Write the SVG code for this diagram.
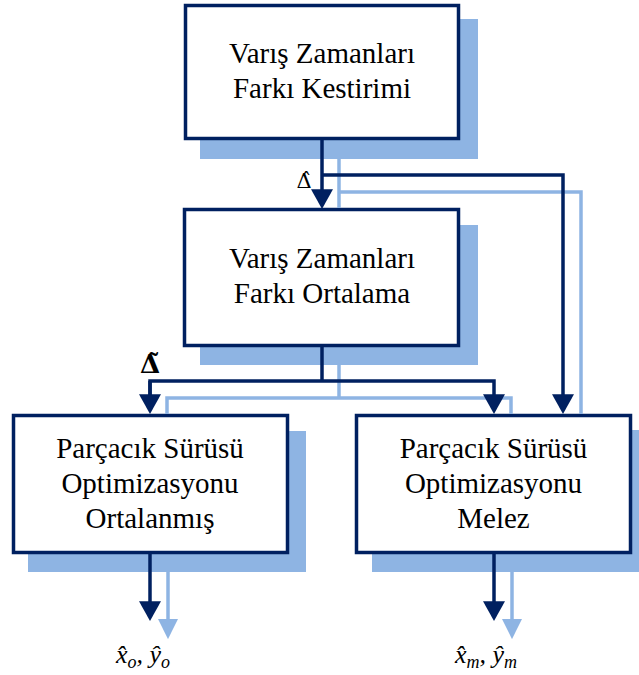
<svg xmlns="http://www.w3.org/2000/svg" width="639" height="675" viewBox="0 0 639 675">
<style>
.shadow{fill:#8EB4E3;}
.box{fill:#ffffff;stroke:#002060;stroke-width:3.5;}
.t{font-size:29px;fill:#000000;text-anchor:middle;}
.dk{fill:none;stroke:#002060;stroke-width:3.5;stroke-linejoin:miter;}
.lt{fill:none;stroke:#8EB4E3;stroke-width:3.5;stroke-linejoin:miter;}
.m{font-style:italic;font-size:26px;fill:#000000;}
.sub{font-size:18px;}
</style>
<defs>
<marker id="ad" markerUnits="userSpaceOnUse" markerWidth="20" markerHeight="22" viewBox="0 0 18 20" refX="8" refY="10" orient="auto">
<path d="M0,0 L18,10 L0,20 z" fill="#002060"/>
</marker>
<marker id="al" markerUnits="userSpaceOnUse" markerWidth="20" markerHeight="20" viewBox="0 0 18 18" refX="8" refY="9" orient="auto">
<path d="M0,0 L18,9 L0,18 z" fill="#8EB4E3"/>
</marker>
</defs>

<g id="node-kestirim" font-family="'Liberation Serif', 'Times New Roman', serif">
<rect class="shadow" x="200" y="19" width="278" height="140"/>
<rect class="box" x="185.5" y="5.5" width="273" height="133"/>
<text class="t" x="322" y="63">Varış Zamanları</text>
<text class="t" x="322" y="98">Farkı Kestirimi</text>
</g>

<g id="node-ortalama" font-family="'Liberation Serif', 'Times New Roman', serif">
<rect class="shadow" x="200" y="225" width="278" height="140"/>
<rect class="box" x="184.5" y="209.5" width="274" height="136"/>
<text class="t" x="322" y="268">Varış Zamanları</text>
<text class="t" x="322" y="303">Farkı Ortalama</text>
</g>

<g id="node-pso-ortalanmis" font-family="'Liberation Serif', 'Times New Roman', serif">
<rect class="shadow" x="28" y="431" width="278" height="141"/>
<rect class="box" x="13.5" y="415.5" width="274" height="137"/>
<text class="t" x="150" y="458">Parçacık Sürüsü</text>
<text class="t" x="150" y="493">Optimizasyonu</text>
<text class="t" x="150" y="528">Ortalanmış</text>
</g>

<g id="node-pso-melez" font-family="'Liberation Serif', 'Times New Roman', serif">
<rect class="shadow" x="372" y="430" width="278" height="142"/>
<rect class="box" x="356.5" y="415.5" width="274" height="137"/>
<text class="t" x="493.5" y="458">Parçacık Sürüsü</text>
<text class="t" x="493.5" y="493">Optimizasyonu</text>
<text class="t" x="493.5" y="528">Melez</text>
</g>

<g id="connectors">
<polyline class="lt" points="339,159 339,208"/>
<polyline class="lt" points="339,192 581,192 581,414"/>
<polyline class="lt" points="339,365 339,398"/>
<polyline class="lt" points="167,414 167,398 511,398 511,414"/>
<line class="lt" x1="168" y1="572" x2="168" y2="628" marker-end="url(#al)"/>
<line class="lt" x1="512" y1="572" x2="512" y2="628" marker-end="url(#al)"/>
<line class="dk" x1="322" y1="140" x2="322" y2="198" marker-end="url(#ad)"/>
<polyline class="dk" points="322,175 563,175 563,403" marker-end="url(#ad)"/>
<line class="dk" x1="322" y1="347" x2="322" y2="381"/>
<polyline class="dk" points="150,403 150,381 494,381 494,403" marker-end="url(#ad)"/>
<line class="dk" x1="150" y1="381" x2="150" y2="403" marker-end="url(#ad)"/>
<line class="dk" x1="150" y1="554" x2="150" y2="610" marker-end="url(#ad)"/>
<line class="dk" x1="494" y1="554" x2="494" y2="610" marker-end="url(#ad)"/>
</g>

<g id="labels">
<text x="304" y="188" font-family="'DejaVu Serif', serif" font-size="21" text-anchor="middle">Δ̂</text>
<text x="150" y="373" font-family="'DejaVu Serif', serif" font-weight="bold" font-size="26" text-anchor="middle">Δ̃</text>
<text class="m" x="116" y="663" font-family="'Liberation Serif', 'Times New Roman', serif">x̂<tspan class="sub" dy="5">o</tspan><tspan dy="-5">, ŷ</tspan><tspan class="sub" dy="5">o</tspan></text>
<text class="m" x="455" y="663" font-family="'Liberation Serif', 'Times New Roman', serif">x̂<tspan class="sub" dy="5">m</tspan><tspan dy="-5">, ŷ</tspan><tspan class="sub" dy="5">m</tspan></text>
</g>
</svg>
